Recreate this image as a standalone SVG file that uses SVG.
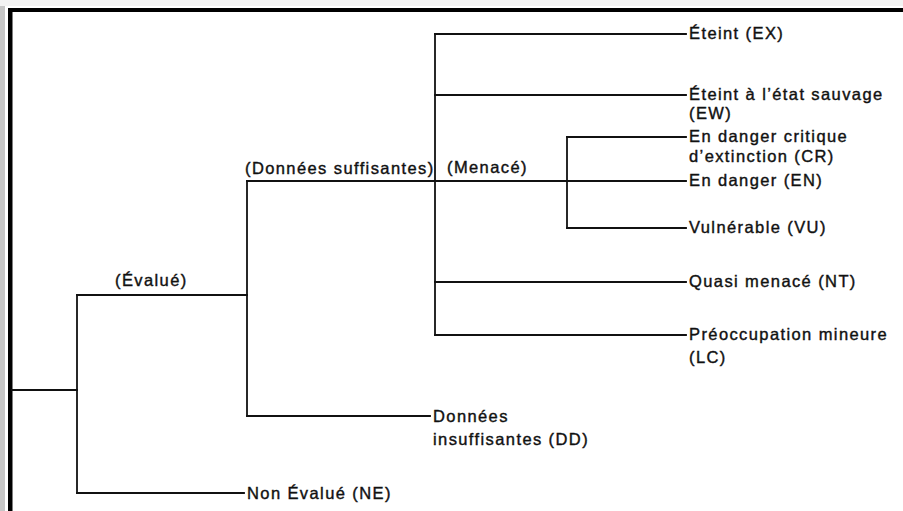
<svg xmlns="http://www.w3.org/2000/svg" width="903" height="511" viewBox="0 0 903 511">
<style>
  .t { font-family: "Liberation Sans", Arial, Helvetica, sans-serif; font-size: 16.5px; letter-spacing: 1.4px; fill: #111; stroke: #111; stroke-width: 0.4px; }
  .c { fill: none; stroke: #111; stroke-width: 1.8; stroke-linecap: square; }
</style>
<rect x="0" y="0" width="903" height="511" fill="#ffffff"/>
<rect x="0" y="0" width="903" height="6" fill="#f2f2f2"/>
<rect x="0" y="6" width="5" height="505" fill="#c6c6c6"/>
<g id="frame">
  <rect x="8" y="8" width="895" height="4" fill="#000"/>
  <rect x="8" y="8" width="4.5" height="503" fill="#000"/>
</g>
<g id="connectors">
  <path class="c" d="M12 390 H77"/>
  <path class="c" d="M77 295 V493"/>
  <path class="c" d="M77 295 H247"/>
  <path class="c" d="M77 493 H244"/>
  <path class="c" d="M247 181 V416"/>
  <path class="c" d="M247 416 H430"/>
  <path class="c" d="M247 181 H686"/>
  <path class="c" d="M435 34 V335"/>
  <path class="c" d="M435 34 H686"/>
  <path class="c" d="M435 95 H686"/>
  <path class="c" d="M435 282 H686"/>
  <path class="c" d="M435 335 H686"/>
  <path class="c" d="M567 137 V228"/>
  <path class="c" d="M567 137 H686"/>
  <path class="c" d="M567 228 H686"/>
</g>
<g id="evalue"><text class="t" x="115" y="286">(Évalué)</text></g>
<g id="ne"><text class="t" x="247" y="499">Non Évalué (NE)</text></g>
<g id="ds"><text class="t" x="245" y="174">(Données suffisantes)</text></g>
<g id="dd"><text class="t" x="433" y="422">Données</text><text class="t" x="433" y="445">insuffisantes (DD)</text></g>
<g id="menace"><text class="t" x="447" y="173">(Menacé)</text></g>
<g id="ex"><text class="t" x="689" y="39">Éteint (EX)</text></g>
<g id="ew"><text class="t" x="689" y="100">Éteint à l’état sauvage</text><text class="t" x="689" y="119">(EW)</text></g>
<g id="cr"><text class="t" x="689" y="142">En danger critique</text><text class="t" x="689" y="162">d’extinction (CR)</text></g>
<g id="en"><text class="t" x="689" y="186">En danger (EN)</text></g>
<g id="vu"><text class="t" x="689" y="233">Vulnérable (VU)</text></g>
<g id="nt"><text class="t" x="689" y="287">Quasi menacé (NT)</text></g>
<g id="lc"><text class="t" x="689" y="340">Préoccupation mineure</text><text class="t" x="689" y="363">(LC)</text></g>
</svg>
